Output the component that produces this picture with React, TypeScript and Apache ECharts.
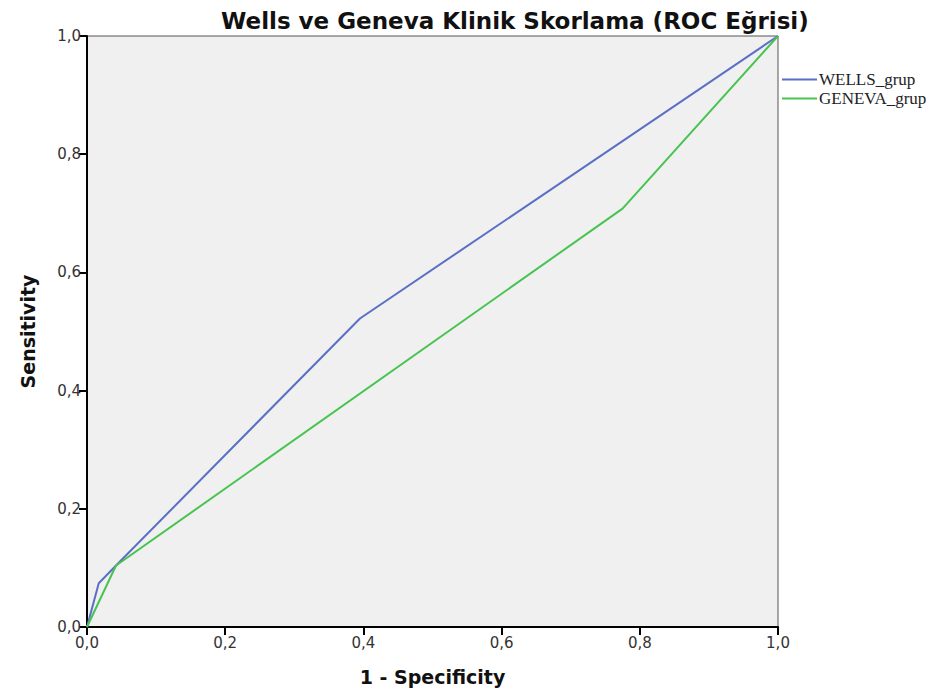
import React, { useEffect, useRef } from "react";
import * as echarts from "echarts";

const titleText = "Wells ve Geneva Klinik Skorlama (ROC Eğrisi)";
const xName = "1 - Specificity";
const yName = "Sensitivity";
const seriesNames = ["WELLS_grup", "GENEVA_grup"];
const wellsX = [0, 0.017, 0.042, 0.395, 1];
const wellsY = [0, 0.074, 0.104, 0.522, 1];
const genevaX = [0, 0.042, 0.775, 1];
const genevaY = [0, 0.104, 0.708, 1];
const colors = ["#5b6fc6", "#47c450"];

const fmt = (v: number) => v.toFixed(1).replace(".", ",");

export default function App() {
  const ref = useRef<HTMLDivElement>(null);
  useEffect(() => {
    if (!ref.current) return;
    const chart = echarts.init(ref.current, undefined, { renderer: "svg" });
    const axisCommon = {
      type: "value" as const,
      min: 0,
      max: 1,
      interval: 0.2,
      splitLine: { show: false },
      axisLine: { show: true, lineStyle: { color: "#000", width: 2 } },
      axisTick: { show: true, inside: false, length: 8, lineStyle: { color: "#000", width: 2 } },
      axisLabel: {
        formatter: (v: number) => fmt(v),
        color: "#333",
        fontSize: 15,
        fontFamily: "DejaVu Sans",
      },
      nameLocation: "middle" as const,
      nameTextStyle: { fontSize: 19, fontWeight: "bold" as const, color: "#111", fontFamily: "DejaVu Sans" },
    };
    chart.setOption({
      animation: false,
      backgroundColor: "#fff",
      title: {
        text: titleText,
        left: 216,
        top: 4,
        textStyle: { fontSize: 23, fontWeight: "bold", color: "#111", fontFamily: "DejaVu Sans" },
      },
      grid: {
        left: 87,
        right: 163,
        top: 36,
        bottom: 68,
        show: true,
        backgroundColor: "#f0f0f0",
        borderColor: "#555",
        borderWidth: 1,
      },
      legend: {
        orient: "vertical",
        left: 777,
        top: 66,
        icon: "rect",
        itemWidth: 35,
        itemHeight: 2,
        itemGap: 2,
        data: seriesNames,
        textStyle: {
          fontFamily: "Liberation Serif",
          fontSize: 17,
          lineHeight: 16,
          color: "#222",
          padding: [0, 0, 0, -3],
        },
      },
      xAxis: { ...axisCommon, name: xName, nameGap: 40 },
      yAxis: { ...axisCommon, name: yName, nameGap: 50, axisLabel: { ...axisCommon.axisLabel, margin: 6 } },
      series: [
        {
          name: seriesNames[0],
          type: "line",
          symbol: "none",
          data: wellsX.map((x, i) => [x, wellsY[i]]),
          lineStyle: { color: colors[0], width: 2 },
          itemStyle: { color: colors[0] },
        },
        {
          name: seriesNames[1],
          type: "line",
          symbol: "none",
          data: genevaX.map((x, i) => [x, genevaY[i]]),
          lineStyle: { color: colors[1], width: 2 },
          itemStyle: { color: colors[1] },
        },
      ],
    });
    return () => chart.dispose();
  }, []);
  return (
    <div
      ref={ref}
      style={{ position: "fixed", left: 0, top: 0, width: 941, height: 695 }}
    />
  );
}
